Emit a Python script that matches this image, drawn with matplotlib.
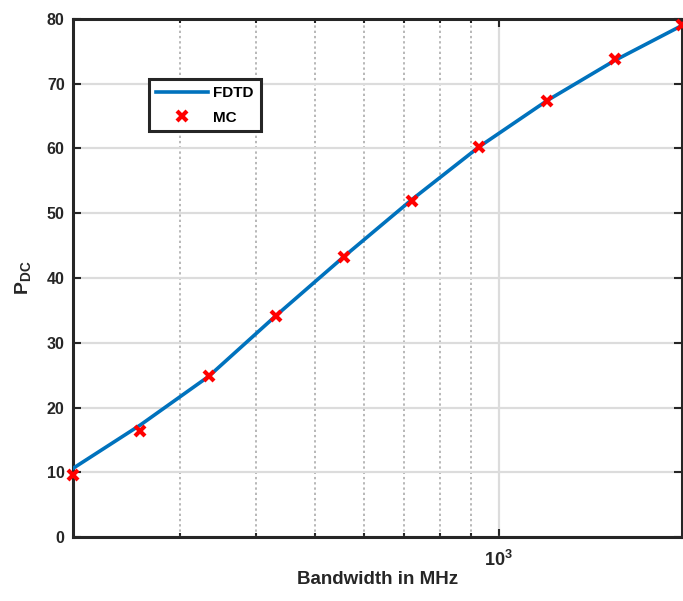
import matplotlib
matplotlib.use("Agg")
import matplotlib.pyplot as plt
from matplotlib.ticker import FixedLocator, NullFormatter, FixedFormatter

plt.rcParams['font.family'] = ['Liberation Sans', 'DejaVu Sans']
plt.rcParams['font.weight'] = 'bold'
plt.rcParams['mathtext.fontset'] = 'custom'
plt.rcParams['mathtext.rm'] = 'Liberation Sans:bold'
plt.rcParams['mathtext.bf'] = 'Liberation Sans:bold'
plt.rcParams['mathtext.default'] = 'bf'

# Bandwidth (MHz) sample points
bandwidth = [200, 258, 334, 431, 557, 720, 930, 1201, 1551, 2000]
# Detection probability from FDTD simulation and Monte Carlo
pdc_fdtd = [10.6, 17.3, 24.8, 34.2, 43.3, 52.1, 60.3, 67.4, 73.6, 79.0]
pdc_mc = [9.6, 16.4, 24.8, 34.1, 43.2, 51.9, 60.3, 67.4, 73.8, 79.1]

y_ticks = [0, 10, 20, 30, 40, 50, 60, 70, 80]
x_minor = [300, 400, 500, 600, 700, 800, 900]

fig = plt.figure(figsize=(6.83, 6.01), dpi=100)
ax = fig.add_axes([73/683, 64/601, 609/683, 518/601])

ax.plot(bandwidth, pdc_fdtd, color='#0072BD', lw=2.6, label='FDTD', zorder=3)
ax.plot(bandwidth, pdc_mc, ls='none', marker='x', color='#FF0000',
        ms=7, mew=3, label='MC', zorder=4, clip_on=False)

ax.set_xscale('log')
ax.set_xlim(200, 2000)
ax.set_ylim(0, 80)
ax.xaxis.set_major_locator(FixedLocator([1000]))
ax.xaxis.set_major_formatter(FixedFormatter(['$\\mathbf{10^3}$']))
ax.xaxis.set_minor_locator(FixedLocator(x_minor))
ax.xaxis.set_minor_formatter(NullFormatter())
ax.set_yticks(y_ticks)

ax.grid(True, which='major', color='#dcdcdc', lw=1.6, ls='-', zorder=0)
ax.grid(True, which='minor', axis='x', color='#b8b8b8', lw=1.4, ls=(0, (1.2, 1.5)), zorder=0)
ax.set_axisbelow(True)

for s in ax.spines.values():
    s.set_linewidth(2.2)
    s.set_color('#262626')

ax.tick_params(which='both', direction='in', top=True, right=True,
               labelsize=11.5, colors='#262626', width=1.5)
ax.tick_params(which='major', length=6)
ax.tick_params(which='minor', length=3)
ax.tick_params(axis='x', pad=9, labelsize=13)
ax.tick_params(axis='y', pad=6)
for lab in ax.get_xticklabels() + ax.get_yticklabels():
    lab.set_fontweight('bold')

ax.set_xlabel('Bandwidth in MHz', fontsize=13.5, fontweight='bold', color='#262626', labelpad=1)
ax.set_ylabel('P$_{\\mathbf{DC}}$', fontsize=14, fontweight='bold', color='#262626', labelpad=10)

leg = ax.legend(loc='upper left', bbox_to_anchor=((149-73)/609, (537-79)/518),
                borderaxespad=0, fontsize=11,
                frameon=True, fancybox=False, edgecolor='#262626', framealpha=1,
                handlelength=3.4, borderpad=0.45, labelspacing=0.7, handletextpad=0.35)
leg.get_frame().set_linewidth(2.2)
for t in leg.get_texts():
    t.set_fontweight('bold')

fig.savefig('out.png', dpi=100)
